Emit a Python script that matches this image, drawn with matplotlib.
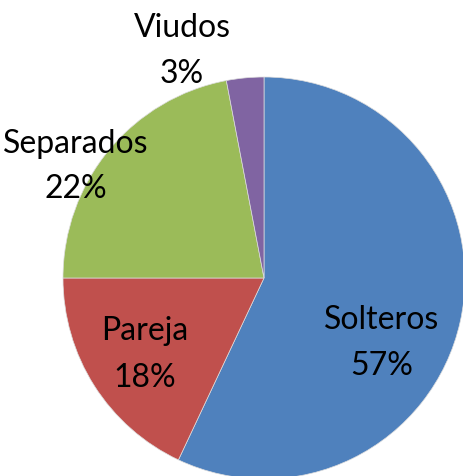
import matplotlib
matplotlib.use("Agg")
import matplotlib.pyplot as plt

categories = ["Solteros", "Pareja", "Separados", "Viudos"]
values = [57, 18, 22, 3]
colors = ["#4F81BD", "#C0504D", "#9BBB59", "#8064A2"]
pct_labels = ["57%", "18%", "22%", "3%"]
# label anchor positions (pixels from top-left): name baseline, pct baseline, x center
label_pos = [(382, 329, 375), (145, 340, 387), (76, 153, 198), (182, 37, 83)]

W, H = 464, 476
fig = plt.figure(figsize=(W / 100, H / 100), dpi=100)
ax = fig.add_axes([0, 0, 1, 1])
ax.pie(values, colors=colors, startangle=90, counterclock=False,
       center=(264, H - 278), radius=201,
       wedgeprops=dict(linewidth=0.5, edgecolor="#dddddd"))
ax.set_xlim(0, W)
ax.set_ylim(0, H)
ax.set_aspect("equal")
ax.axis("off")

font = dict(family="Lato", fontsize=23, color="black", ha="center", va="baseline")
for name, pct, (x, yn, yp) in zip(categories, pct_labels, label_pos):
    ax.text(x, H - yn, name, **font)
    ax.text(x, H - yp, pct, **font)

fig.savefig("out.png", dpi=100)
